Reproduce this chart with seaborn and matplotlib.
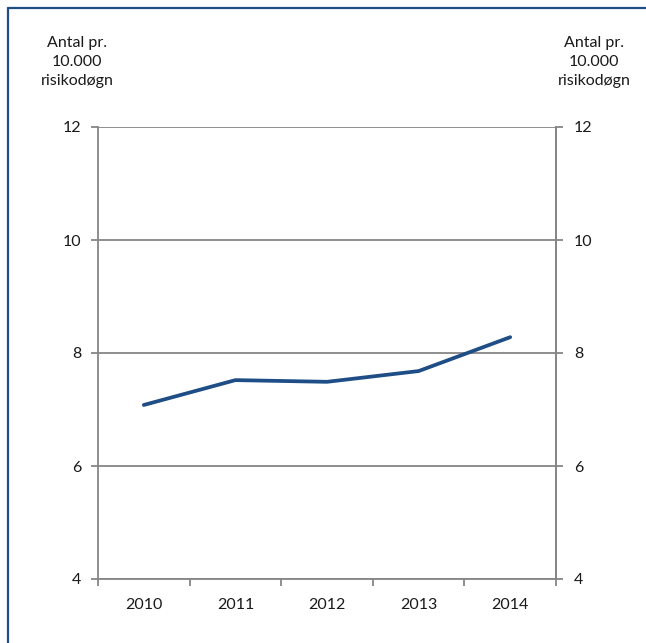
import matplotlib.pyplot as plt
import seaborn as sns
import pandas as pd
import numpy as np

# data
years = ['2010', '2011', '2012', '2013', '2014']
values = [7.08, 7.52, 7.49, 7.68, 8.28]
y_ticks = [4, 6, 8, 10, 12]
axis_label = 'Antal pr.\n10.000\nrisikodøgn'

sns.set_theme(style='white')
plt.rcParams['font.family'] = ['Lato', 'DejaVu Sans']

grid_col = '#868686'
line_col = '#1F4E86'
text_col = '#1a1a1a'
fs = 11.5

W, H = 646, 643
fig = plt.figure(figsize=(W / 100, H / 100), dpi=100)
ax = fig.add_axes([98 / W, (H - 579) / H, (556 - 98) / W, (579 - 127) / H])

df = pd.DataFrame({'year': years, 'value': values})
sns.lineplot(data=df, x='year', y='value', ax=ax, color=line_col, linewidth=2.7,
             solid_capstyle='round', zorder=3)

ax.set_xlim(-0.5, len(years) - 0.5)
ax.set_ylim(y_ticks[0], y_ticks[-1])
ax.set_yticks(y_ticks)
ax.set_xticks(range(len(years)))
ax.set_xticklabels(years)
ax.set_xlabel('')
ax.set_ylabel('')
ax.set_xticks(np.arange(-0.5, len(years), 1.0), minor=True)

ax.grid(axis='y', color=grid_col, linewidth=1.3, zorder=1)
for s in ['left', 'right', 'bottom']:
    ax.spines[s].set_color(grid_col)
    ax.spines[s].set_linewidth(1.3)
ax.spines['top'].set_visible(False)

ax.tick_params(axis='x', which='major', length=0, pad=14, labelsize=fs, labelcolor=text_col)
ax.tick_params(axis='x', which='minor', bottom=True, length=5, width=1.3, color=grid_col, direction='out')
ax.tick_params(axis='y', left=True, length=5, width=1.3, color=grid_col, direction='out',
               pad=7, labelsize=fs, labelcolor=text_col)

ax2 = ax.twinx()
ax2.set_ylim(ax.get_ylim())
ax2.set_yticks(y_ticks)
ax2.tick_params(axis='y', right=True, length=5, width=1.3, color=grid_col, direction='out',
                pad=8, labelsize=fs, labelcolor=text_col)
for s in ['left', 'top', 'bottom']:
    ax2.spines[s].set_visible(False)
ax2.spines['right'].set_color(grid_col)
ax2.spines['right'].set_linewidth(1.3)
ax2.grid(False)

fig.text(77 / W, 1 - 62 / H, axis_label, ha='center', va='center', fontsize=fs,
         color=text_col, linespacing=1.45)
fig.text(594 / W, 1 - 62 / H, axis_label, ha='center', va='center', fontsize=fs,
         color=text_col, linespacing=1.45)

# outer frame (top and left edges)
frame_col = '#1F4E86'
fig.add_artist(plt.Line2D([8 / W, 1], [1 - 7.5 / H, 1 - 7.5 / H], color=frame_col, linewidth=1.6,
                          transform=fig.transFigure))
fig.add_artist(plt.Line2D([8 / W, 8 / W], [0, 1 - 7.5 / H], color=frame_col, linewidth=1.6,
                          transform=fig.transFigure))

fig.savefig('out.png', dpi=100)
